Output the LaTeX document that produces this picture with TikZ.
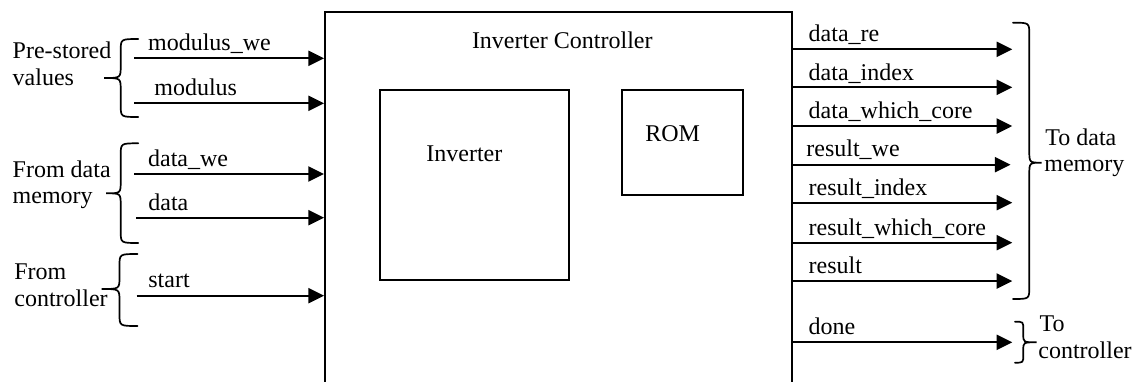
\documentclass[tikz,border=0pt]{standalone}
\usepackage{fontspec}
\setmainfont{Liberation Serif}
\usetikzlibrary{arrows.meta,fit}
\begin{document}
\begin{tikzpicture}[x=0.5pt,y=-0.5pt,
  sig/.style={line width=1pt,-{Triangle[length=7.8pt,width=7.5pt]}},
  lbl/.style={inner sep=0pt,anchor=base west,font=\fontsize{12}{14}\selectfont},
  blk/.style={draw,line width=1pt,inner sep=0pt},
  brc/.style={line width=0.85pt,line cap=round}]
\useasboundingbox (0,0) rectangle (1141,381);
\clip (0,0) rectangle (1141,381);

% main controller block (runs past the lower edge)
\coordinate (ctlA) at (325,11.7);
\coordinate (ctlB) at (792.3,430);
\node[blk,fit=(ctlA)(ctlB)] (ctrl) {};
\node[lbl,anchor=base] (ctrlT) at (562.3,48.3) {Inverter Controller};

% inner blocks
\coordinate (invA) at (380.3,89.7);
\coordinate (invB) at (569.3,280.3);
\node[blk,fit=(invA)(invB)] (inv) {};
\node[lbl] (invT) at (426,161) {Inverter};
\coordinate (romA) at (621.7,89.7);
\coordinate (romB) at (743.3,194.7);
\node[blk,fit=(romA)(romB)] (rom) {};
\node[lbl] (romT) at (645,141) {ROM};

% inputs
\coordinate (iA) at (134,58.3);
\coordinate (iB) at (134,103.3);
\coordinate (iC) at (134,174);
\coordinate (iD) at (136,217.7);
\coordinate (iE) at (136.7,295.7);
\foreach \p in {iA,iB,iC,iD,iE} \draw[sig] (\p) -- (\p -| ctrl.west);
\node[lbl] (tA) at (147.7,50.7) {modulus\_we};
\node[lbl] (tB) at (154,95.5) {modulus};
\node[lbl] (tC) at (147.7,166.7) {data\_we};
\node[lbl] (tD) at (148,210) {data};
\node[lbl] (tE) at (148,287.5) {start};

% input groups
\draw[brc] (138.3,39) .. controls (120.7,39) .. (120.7,51) -- (120.7,66)
  .. controls (120.7,78) .. (104,78) .. controls (120.7,78) .. (120.7,90)
  -- (120.7,105) .. controls (120.7,117) .. (138.3,117);
\draw[brc] (138.3,143.3) .. controls (120.7,143.3) .. (120.7,155.3) -- (120.7,181.3)
  .. controls (120.7,193.3) .. (106,193.3) .. controls (120.7,193.3) .. (120.7,205.3)
  -- (120.7,231) .. controls (120.7,243) .. (138.3,243);
\draw[brc] (137.5,254) .. controls (119.5,254) .. (119.5,266) -- (119.5,277)
  .. controls (119.5,289) .. (101.7,289) .. controls (119.5,289) .. (119.5,301)
  -- (119.5,314) .. controls (119.5,326) .. (137.5,326);
\node[lbl] (gA1) at (12.3,58.3) {Pre-stored};
\node[lbl] (gA2) at (12.3,85.3) {values};
\node[lbl] (gB1) at (12.3,177) {From data};
\node[lbl] (gB2) at (12.3,203.5) {memory};
\node[lbl] (gC1) at (14,279) {From};
\node[lbl] (gC2) at (14,306.5) {controller};

% outputs
\coordinate (oA) at (1012.3,49.3);
\coordinate (oB) at (1012.3,87.3);
\coordinate (oC) at (1012.3,126);
\coordinate (oD) at (1010.5,164.7);
\coordinate (oE) at (1012.3,202.7);
\coordinate (oF) at (1012.3,242.7);
\coordinate (oG) at (1012.3,281);
\coordinate (oH) at (1012.3,342.3);
\foreach \p in {oA,oB,oC,oD,oE,oF,oG,oH} \draw[sig] (\p -| ctrl.east) -- (\p);
\node[lbl] (uA) at (808.3,41.7) {data\_re};
\node[lbl] (uB) at (808.3,80) {data\_index};
\node[lbl] (uC) at (808.3,118.3) {data\_which\_core};
\node[lbl] (uD) at (806,156.7) {result\_we};
\node[lbl] (uE) at (808.3,195) {result\_index};
\node[lbl] (uF) at (808.3,235) {result\_which\_core};
\node[lbl] (uG) at (808.3,273.3) {result};
\node[lbl] (uH) at (808.3,334.3) {done};

% output groups
\draw[brc] (1013,22.7) .. controls (1029.3,22.7) .. (1029.3,34.7) -- (1029.3,150.7)
  .. controls (1029.3,162.7) .. (1041.7,162.7) .. controls (1029.3,162.7) .. (1029.3,174.7)
  -- (1029.3,287) .. controls (1029.3,299) .. (1013,299);
\draw[brc] (1015,321.7) .. controls (1023.3,321.7) .. (1023.3,329.7) -- (1023.3,334.7)
  .. controls (1023.3,342.3) .. (1036.7,342.3) .. controls (1023.3,342.3) .. (1023.3,349.7)
  -- (1023.3,354.7) .. controls (1023.3,362.7) .. (1015,362.7);
\node[lbl] (hA1) at (1045,145) {To data};
\node[lbl] (hA2) at (1044,171.7) {memory};
\node[lbl] (hB1) at (1039.3,331) {To};
\node[lbl] (hB2) at (1038,358) {controller};
\end{tikzpicture}
\end{document}
